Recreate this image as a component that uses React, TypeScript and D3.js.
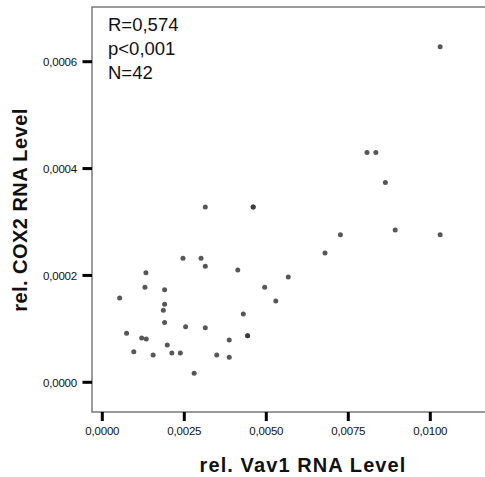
import React, { useEffect, useRef } from "react";
import * as d3 from "d3";

// rel. Vav1 RNA level (x) and rel. COX2 RNA level (y)
const vav1 = [
  0.00314, 0.00246, 0.00301, 0.00314, 0.00133, 0.0013, 0.0019, 0.00053, 0.0019, 0.00186,
  0.0019, 0.00254, 0.00314, 0.00074, 0.0012, 0.00134, 0.00198, 0.00096, 0.00155, 0.00212,
  0.00238, 0.00349, 0.0028, 0.0046, 0.0046, 0.00726, 0.00679, 0.00413, 0.00567, 0.00495,
  0.00529, 0.0043, 0.00443, 0.00443, 0.00387, 0.00387, 0.0103, 0.00807, 0.00834, 0.00863,
  0.00893, 0.0103,
];
const cox2 = [
  0.000328, 0.000232, 0.000232, 0.000217, 0.000205, 0.000178, 0.000173, 0.000158, 0.000146, 0.000135,
  0.000112, 0.000104, 0.000102, 0.000092, 0.000083, 0.000081, 0.00007, 0.000057, 0.000051, 0.000055,
  0.000055, 0.000051, 0.000017, 0.000328, 0.000328, 0.000276, 0.000242, 0.00021, 0.000197, 0.000178,
  0.000152, 0.000128, 0.000087, 0.000087, 0.000079, 0.000047, 0.000628, 0.00043, 0.00043, 0.000374,
  0.000285, 0.000276,
];
const xTicks = [0, 0.0025, 0.005, 0.0075, 0.01];
const yTicks = [0, 0.0002, 0.0004, 0.0006];
const stats = ["R=0,574", "p<0,001", "N=42"];

const W = 485;
const H = 477;

const fmt = (v: number) => d3.format(".4f")(v).replace(".", ",");

const App = () => {
  const svgRef = useRef<SVGSVGElement>(null);

  useEffect(() => {
    const svg = d3.select(svgRef.current);
    svg.selectAll("*").remove();

    const x = d3.scaleLinear().domain([0, 0.01]).range([102.3, 430.3]);
    const y = d3.scaleLinear().domain([0, 0.0006]).range([382.3, 61.7]);

    const left = 92;
    const top = 7;
    const bottom = 412;

    // frame (right side runs off the picture)
    svg
      .append("path")
      .attr("d", `M${W + 5},${top}H${left}V${bottom}H${W + 5}`)
      .attr("fill", "none")
      .attr("stroke", "#7a7a7a")
      .attr("stroke-width", 1.5);

    // y ticks
    const gy = svg.append("g");
    gy.selectAll("line")
      .data(yTicks)
      .enter()
      .append("line")
      .attr("x1", left - 9.5)
      .attr("x2", left)
      .attr("y1", (d) => y(d))
      .attr("y2", (d) => y(d))
      .attr("stroke", "#000")
      .attr("stroke-width", 3);
    gy.selectAll("text")
      .data(yTicks)
      .enter()
      .append("text")
      .attr("x", 77)
      .attr("y", (d) => y(d) + 4.5)
      .attr("text-anchor", "end")
      .attr("font-family", "'Liberation Sans', Arial, sans-serif")
      .attr("font-size", 11.5)
      .attr("letter-spacing", -0.2)
      .attr("fill", "#111")
      .text((d) => fmt(d));

    // x ticks
    const gx = svg.append("g");
    gx.selectAll("line")
      .data(xTicks)
      .enter()
      .append("line")
      .attr("x1", (d) => x(d))
      .attr("x2", (d) => x(d))
      .attr("y1", bottom)
      .attr("y2", bottom + 9)
      .attr("stroke", "#000")
      .attr("stroke-width", 3);
    gx.selectAll("text")
      .data(xTicks)
      .enter()
      .append("text")
      .attr("x", (d) => x(d))
      .attr("y", 435)
      .attr("text-anchor", "middle")
      .attr("font-family", "'Liberation Sans', Arial, sans-serif")
      .attr("font-size", 11.5)
      .attr("letter-spacing", -0.2)
      .attr("fill", "#111")
      .text((d) => fmt(d));

    // points
    svg
      .append("g")
      .selectAll("circle")
      .data(vav1.map((v, i) => [v, cox2[i]]))
      .enter()
      .append("circle")
      .attr("cx", (d) => x(d[0]))
      .attr("cy", (d) => y(d[1]))
      .attr("r", 2.5)
      .attr("fill", "#3a3a3a")
      .attr("fill-opacity", 0.85);

    // stats text
    svg
      .append("g")
      .selectAll("text")
      .data(stats)
      .enter()
      .append("text")
      .attr("x", 108)
      .attr("y", (d, i) => 30.5 + i * 24.3)
      .attr("font-family", "'Liberation Sans', Arial, sans-serif")
      .attr("font-size", 18.5)
      .attr("fill", "#111")
      .text((d) => d);

    // axis titles
    svg
      .append("text")
      .attr("x", 303)
      .attr("y", 472)
      .attr("text-anchor", "middle")
      .attr("font-family", "'Liberation Sans', Arial, sans-serif")
      .attr("font-weight", "bold")
      .attr("font-size", 20)
      .attr("letter-spacing", 1.1)
      .attr("fill", "#111")
      .text("rel. Vav1 RNA Level");

    svg
      .append("text")
      .attr("transform", "translate(26.5,210) rotate(-90)")
      .attr("text-anchor", "middle")
      .attr("font-family", "'Liberation Sans', Arial, sans-serif")
      .attr("font-weight", "bold")
      .attr("font-size", 20)
      .attr("letter-spacing", 0.45)
      .attr("fill", "#111")
      .text("rel. COX2 RNA Level");
  }, []);

  return (
    <div style={{ position: "absolute", left: 0, top: 0 }}>
      <svg ref={svgRef} width={W} height={H} style={{ display: "block", background: "#fff" }}></svg>
    </div>
  );
};

export default App;
